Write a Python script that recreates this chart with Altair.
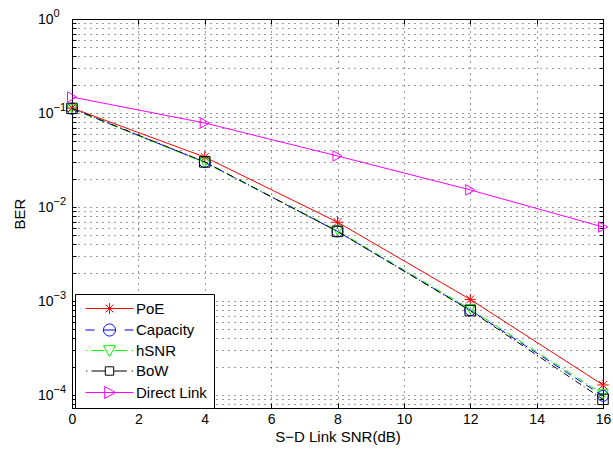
import altair as alt
import pandas as pd

# ---- data ----
snr = [0, 4, 8, 12, 16]
poe = [0.113, 0.0340, 0.0069, 0.00104, 0.000128]
capacity = [0.111, 0.0300, 0.0055, 0.00080, 0.000098]
hsnr = [0.111, 0.0296, 0.0056, 0.00082, 0.000102]
bow = [0.112, 0.0302, 0.0055, 0.00079, 0.000090]
direct = [0.148, 0.0783, 0.0349, 0.0152, 0.00613]

series_names = ["PoE", "Capacity", "hSNR", "BoW", "Direct Link"]
series_values = [poe, capacity, hsnr, bow, direct]

x_ticks = [0, 2, 4, 6, 8, 10, 12, 14, 16]
y_min, y_max = 10 ** -4.138, 1.0

# ---- styles ----
colors = ["#FF0000", "#0000FF", "#00FF00", "#000000", "#FF00FF"]
dashes = [None, [8, 5], [7, 3, 1, 3], [7, 3, 1, 3], None]
star = "M-1,0L1,0M0,-1L0,1M-0.7,-0.7L0.7,0.7M-0.7,0.7L0.7,-0.7"
markers = [star, "circle", "triangle-down", "square", "triangle-right"]
marker_sizes = [130, 120, 110, 110, 110]
legend_paths = [
    "M-4,0L4,0M0,-0.9L0,0.9M-0.65,-0.65L0.65,0.65M-0.65,0.65L0.65,-0.65",
    "M-4,0L-2.5,0M-1,0L1,0M2.5,0L4,0M1,0A1,1,0,1,1,-1,0A1,1,0,1,1,1,0",
    "M-3.9,0L-3.7,0M-3,0L-0.85,0M0.85,0L2.9,0M3.7,0L3.9,0M-1,-0.8L1,-0.8L0,1Z",
    "M-3.9,0L-3.7,0M-3,0L-0.7,0M0.7,0L2.9,0M3.7,0L3.9,0M-0.7,-0.7L0.7,-0.7L0.7,0.7L-0.7,0.7Z",
    "M-4,0L4,0M-0.8,-1L1,0L-0.8,1Z",
]

rows = []
for name, vals in zip(series_names, series_values):
    for s, v in zip(snr, vals):
        rows.append({"series": name, "snr": s, "ber": v})
df = pd.DataFrame(rows)

# y grid / minor ticks at every 1..9 x 10^e inside the domain
y_grid = []
for e in range(-5, 1):
    for m in range(1, 10):
        v = m * 10.0 ** e
        if y_min <= v <= y_max * 1.0000001:
            y_grid.append(v)

FONT = "Liberation Sans"
W, H = 531, 389
LOG10 = "round(log(datum.value)/LN10)"
IS_DECADE = "abs(log(datum.value)/LN10 - round(log(datum.value)/LN10)) < 0.001"

x_scale = alt.Scale(domain=[0, 16], nice=False, zero=False)
y_scale = alt.Scale(type="log", domain=[y_min, y_max], nice=False)

x_main_axis = alt.Axis(
    values=x_ticks, title="S\u2212D Link SNR(dB)", grid=True, gridDash=[1, 5],
    gridColor="#000000", gridOpacity=0.8, ticks=False, tickSize=0, labelPadding=4,
    labelFontSize=14, titleFontSize=15, titlePadding=3, labelFlush=False, domain=True,
)
y_main_axis = alt.Axis(
    orient="left", values=y_grid, title="BER", grid=True, gridDash=[1, 5],
    gridColor="#000000", gridOpacity=0.8, ticks=False, tickSize=0,
    labelOverlap=False, labelFlush=False, labelPadding=19, labelFontSize=14,
    titleFontSize=15, titlePadding=10, domain=True,
    labelExpr=f"{IS_DECADE} ? '10' : ''",
)
y_exp_axis = alt.Axis(
    orient="left", values=y_grid, title=None, grid=False, ticks=False, tickSize=0,
    domain=False, labelOverlap=False, labelFlush=False, labelPadding=19,
    labelAlign="left", labelFontSize=11, labelOffset=-6,
    labelExpr=f"{IS_DECADE} ? ({LOG10} == 0 ? '0' : '\u2212' + (-{LOG10})) : ''",
)


def tick_axis_y(orient):
    return alt.Axis(
        orient=orient, offset=-W, values=y_grid, title=None, grid=False, labels=False,
        domain=False, ticks=True, tickSize=4, tickColor="#000000", tickWidth=1,
    )


def tick_axis_x(orient):
    return alt.Axis(
        orient=orient, offset=-H, values=x_ticks, title=None, grid=False, labels=False,
        domain=False, ticks=True, tickSize=5, tickColor="#000000", tickWidth=1,
    )


# axes carried by the first layers (one axis per layer, the rest hidden)
x_axes = [x_main_axis, None, tick_axis_x("top"), tick_axis_x("bottom")]
y_axes = [y_main_axis, y_exp_axis, tick_axis_y("right"), tick_axis_y("left")]

layers = []
for name, col, dash, mk, ms in zip(series_names, colors, dashes, markers, marker_sizes):
    base = alt.Chart(df).transform_filter(alt.datum.series == name)
    line_kwargs = dict(color=col, strokeWidth=1, clip=True)
    if dash is not None:
        line_kwargs["strokeDash"] = dash
    layers.append(base.mark_line(**line_kwargs))
    layers.append(
        base.mark_point(shape=mk, size=ms, filled=False, color=col, strokeWidth=1, opacity=1)
    )

encoded = []
for i, lay in enumerate(layers):
    xa = x_axes[i] if i < len(x_axes) else None
    ya = y_axes[i] if i < len(y_axes) else None
    encoded.append(
        lay.encode(
            x=alt.X("snr:Q", scale=x_scale, axis=xa),
            y=alt.Y("ber:Q", scale=y_scale, axis=ya),
        )
    )

legend_layer = (
    alt.Chart(df)
    .transform_filter("false")
    .mark_point(filled=False, strokeWidth=1, opacity=1)
    .encode(
        x=alt.X("snr:Q", scale=x_scale, axis=None),
        y=alt.Y("ber:Q", scale=y_scale, axis=None),
        color=alt.Color(
            "series:N",
            scale=alt.Scale(domain=series_names, range=colors),
            legend=alt.Legend(
                title=None, orient="none", legendX=3, legendY=275,
                symbolSize=144, symbolStrokeWidth=1, symbolOffset=20,
                labelOffset=19, labelFontSize=15, labelFont=FONT,
                rowPadding=4.5, padding=7, strokeColor="#000000",
                fillColor="#FFFFFF", cornerRadius=0,
            ),
        ),
        shape=alt.Shape(
            "series:N",
            scale=alt.Scale(domain=series_names, range=legend_paths),
            legend=alt.Legend(
                title=None, orient="none", legendX=3, legendY=275,
                symbolSize=144, symbolOffset=20, labelOffset=19,
            ),
        ),
    )
)

chart = (
    alt.layer(*encoded, legend_layer)
    .resolve_axis(x="independent", y="independent")
    .properties(
        width=W,
        height=H,
        autosize=alt.AutoSizeParams(type="none"),
        padding={"left": 72, "top": 19, "right": 10, "bottom": 49},
        background="white",
    )
    .configure_view(stroke="#000000", strokeWidth=1)
    .configure_axis(
        labelFont=FONT,
        titleFont=FONT,
        labelColor="#000000",
        titleColor="#000000",
        titleFontWeight="normal",
        domainColor="#000000",
        domainWidth=1,
    )
)

chart.save("out.html", embed_options={"renderer": "svg", "actions": False})
